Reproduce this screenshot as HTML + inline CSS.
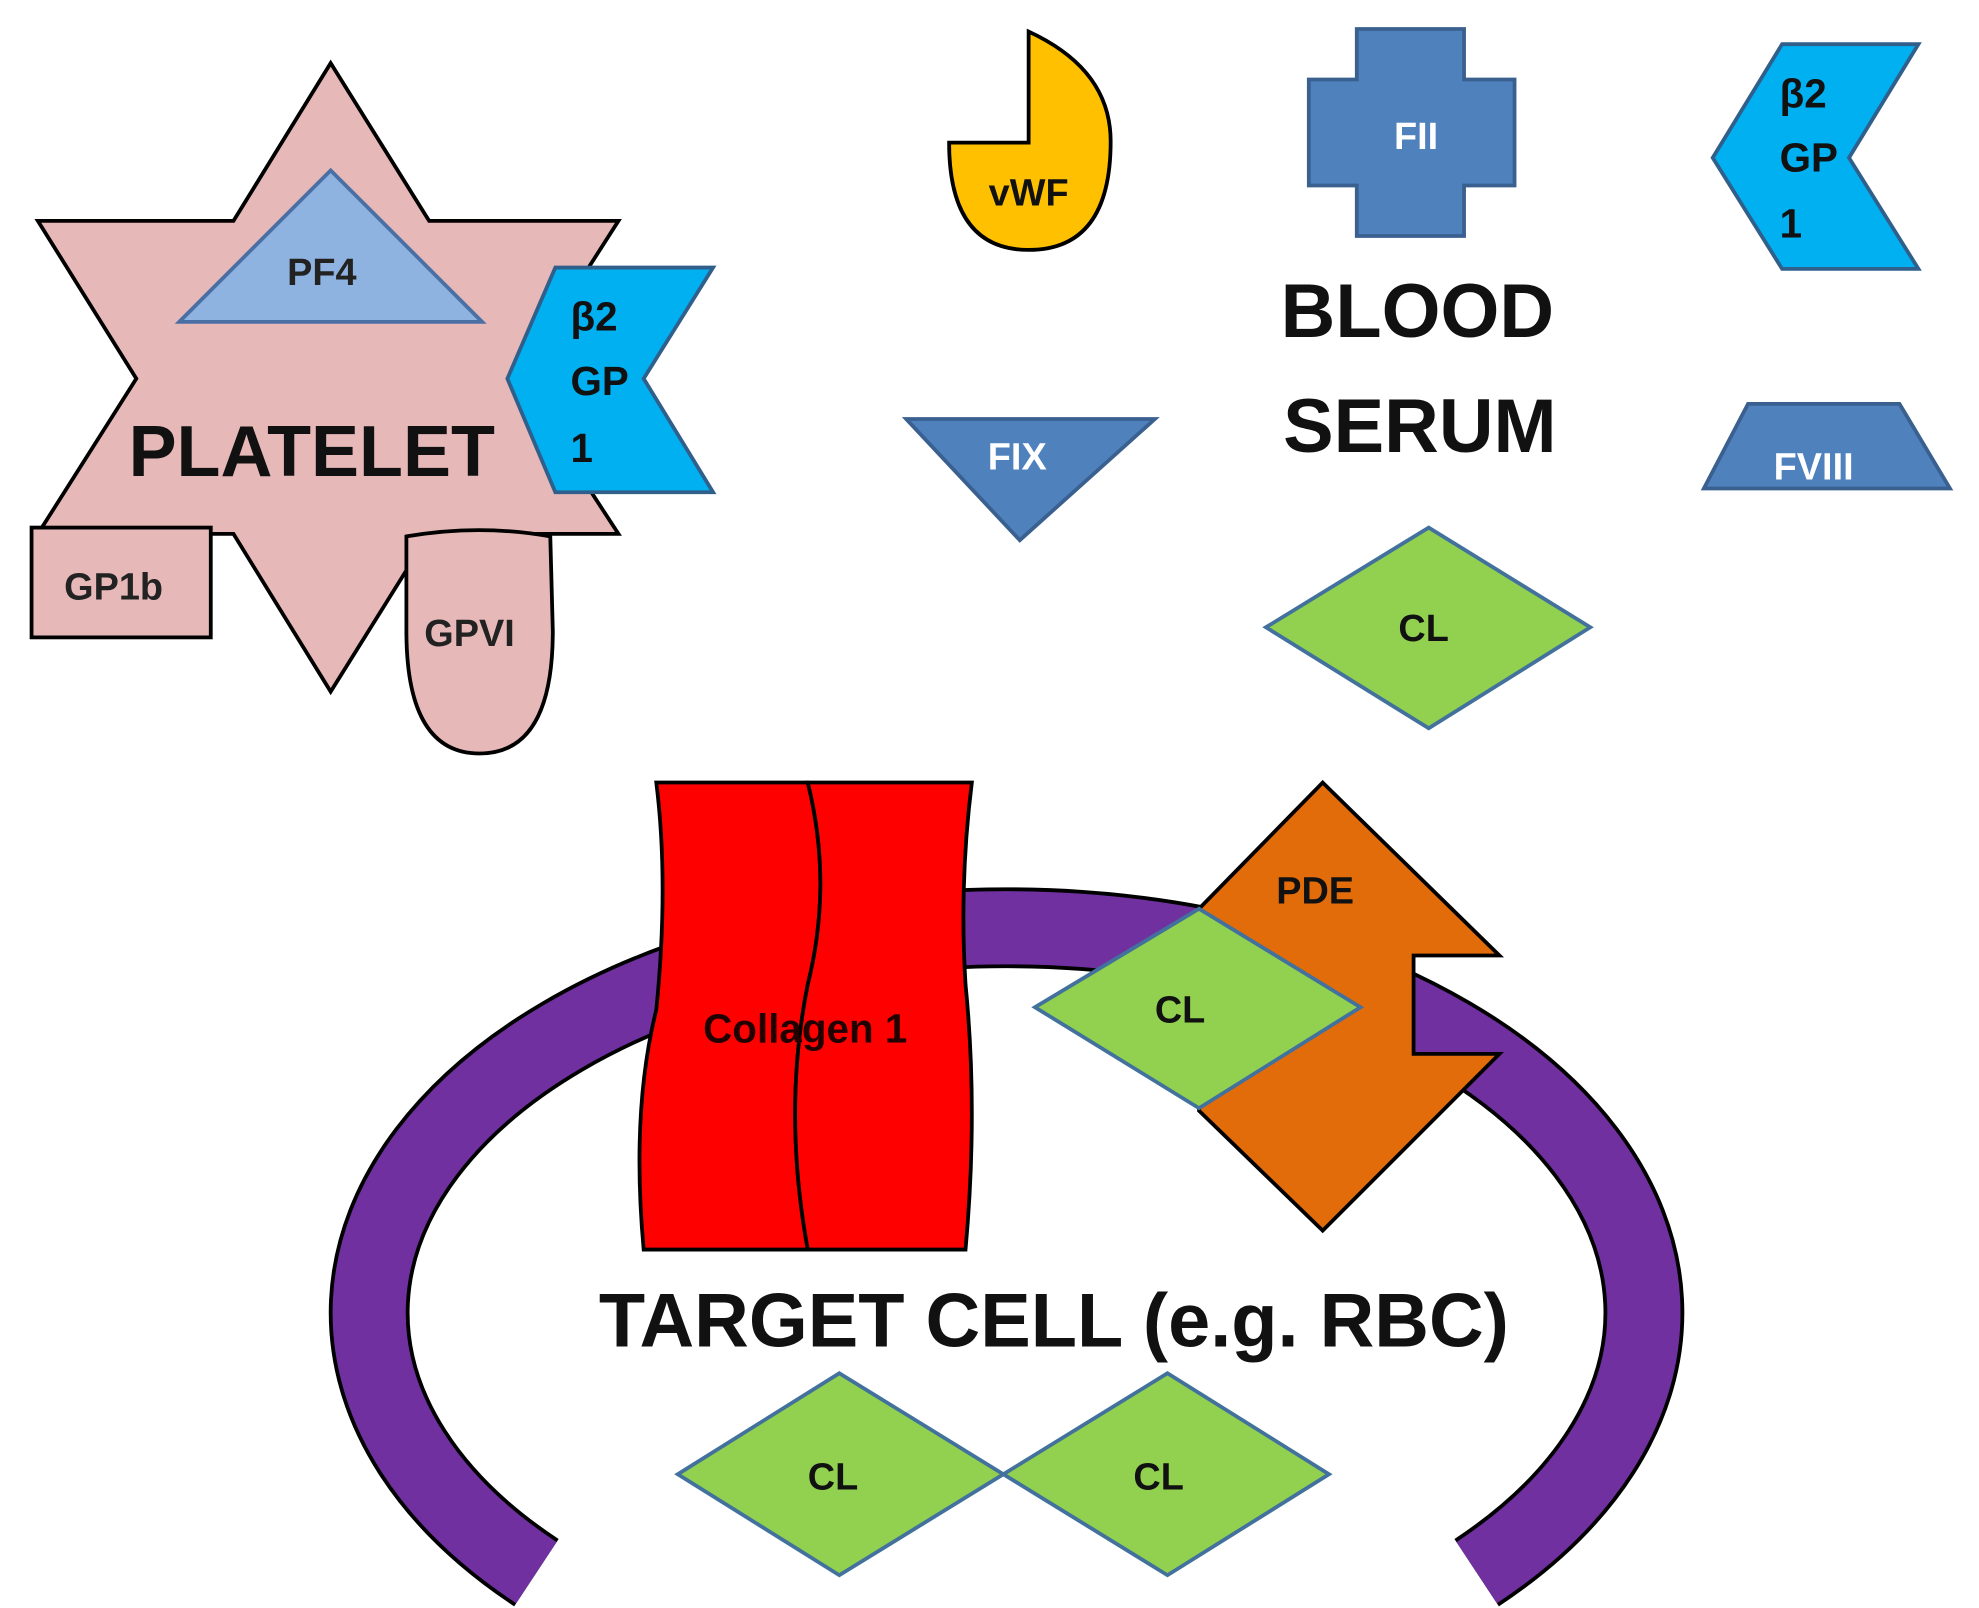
<!DOCTYPE html>
<html><head><meta charset="utf-8"><style>html,body{margin:0;padding:0;background:#fff}svg{display:block}</style></head>
<body>
<svg width="1979" height="1608" viewBox="0 0 1568 1274" preserveAspectRatio="none" xmlns="http://www.w3.org/2000/svg" font-family="Liberation Sans, sans-serif" font-weight="bold">
<polygon points="262,50 340,175 490,175 410,300 490,423 340,423 262,548 185,423 30,423 108,300 30,175 185,175" fill="#e6b9b8" stroke="#000" stroke-width="3"/>
<polygon points="142,255 262,135 382,255" fill="#8fb3e0" stroke="#4a6fa5" stroke-width="3"/>
<text x="255" y="226" font-size="30" text-anchor="middle" fill="#222">PF4</text>
<polygon points="402,300 440,212 565,212 510,300 565,390 440,390" fill="#00b0f0" stroke="#2f5f8a" stroke-width="3"/>
<text x="452" y="262" font-size="32" fill="#111">β2</text>
<text x="452" y="313" font-size="32" fill="#111">GP</text>
<text x="452" y="366" font-size="32" fill="#111">1</text>
<rect x="25" y="418" width="142" height="87" fill="#e6b9b8" stroke="#000" stroke-width="3"/>
<text x="90" y="475" font-size="30" text-anchor="middle" fill="#222">GP1b</text>
<path d="M322,425 Q380,415 436,425 L438,500 Q438,597 380,597 Q322,597 322,500 Z" fill="#e6b9b8" stroke="#000" stroke-width="3"/>
<text x="372" y="512" font-size="30" text-anchor="middle" fill="#222">GPVI</text>
<text x="247" y="377" font-size="57" text-anchor="middle" fill="#111">PLATELET</text>
<path d="M815,25 Q880,55 880,112 Q880,198 815,198 Q752,198 752,113 L815,113 Z" fill="#ffc000" stroke="#000" stroke-width="3"/>
<text x="815" y="163" font-size="30" text-anchor="middle" fill="#111">vWF</text>
<polygon points="1075,23 1160,23 1160,63 1200,63 1200,147 1160,147 1160,187 1075,187 1075,147 1037,147 1037,63 1075,63" fill="#4f81bd" stroke="#3a6090" stroke-width="3"/>
<text x="1122" y="118" font-size="30" text-anchor="middle" fill="#fff">FII</text>
<polygon points="1357,125 1412,35 1520,35 1465,125 1520,213 1412,213" fill="#00b0f0" stroke="#2f5f8a" stroke-width="3"/>
<text x="1410" y="85" font-size="32" fill="#111">β2</text>
<text x="1410" y="136" font-size="32" fill="#111">GP</text>
<text x="1410" y="188" font-size="32" fill="#111">1</text>
<text x="1123" y="267" font-size="60" text-anchor="middle" fill="#111">BLOOD</text>
<text x="1125" y="358" font-size="60" text-anchor="middle" fill="#111">SERUM</text>
<polygon points="718,332 915,332 808,428" fill="#4f81bd" stroke="#3a6090" stroke-width="3"/>
<text x="806" y="372" font-size="30" text-anchor="middle" fill="#fff">FIX</text>
<polygon points="1350,387 1545,387 1505,320 1385,320" fill="#4f81bd" stroke="#3a6090" stroke-width="3"/>
<text x="1437" y="380" font-size="30" text-anchor="middle" fill="#fff">FVIII</text>
<polygon points="1003,497 1132,418 1260,497 1132,577" fill="#92d050" stroke="#41719c" stroke-width="3"/>
<text x="1128" y="508" font-size="30" text-anchor="middle" fill="#111">CL</text>
<g transform="translate(0,20)">
<path d="M425,1226 A505,305 0 1 1 1170,1226" fill="none" stroke="#000" stroke-width="64"/>
<path d="M425,1226 A505,305 0 1 1 1170,1226" fill="none" stroke="#7030a0" stroke-width="58"/>
</g>
<path d="M520,620 L640,620 Q660,700 640,780 Q620,880 640,990 L510,990 Q500,880 520,800 Q530,700 520,620 Z" fill="#ff0000" stroke="#000" stroke-width="3"/>
<path d="M640,620 L770,620 Q760,700 765,780 Q775,880 765,990 L640,990 Q620,880 640,780 Q660,700 640,620 Z" fill="#ff0000" stroke="#000" stroke-width="3"/>
<text x="638" y="826" font-size="32" text-anchor="middle" fill="#220000">Collagen 1</text>
<polygon points="1048,620 1188,757 1120,757 1120,835 1188,835 1048,975 950,880 950,720" fill="#e36c0a" stroke="#000" stroke-width="3"/>
<text x="1042" y="716" font-size="30" text-anchor="middle" fill="#111">PDE</text>
<polygon points="820,798 950,720 1078,798 950,878" fill="#92d050" stroke="#41719c" stroke-width="3"/>
<text x="935" y="810" font-size="30" text-anchor="middle" fill="#111">CL</text>
<text x="835" y="1067" font-size="60" text-anchor="middle" fill="#111">TARGET CELL (e.g. RBC)</text>
<polygon points="537,1168 665,1088 795,1168 665,1248" fill="#92d050" stroke="#41719c" stroke-width="3"/>
<polygon points="795,1168 925,1088 1053,1168 925,1248" fill="#92d050" stroke="#41719c" stroke-width="3"/>
<text x="660" y="1180" font-size="30" text-anchor="middle" fill="#111">CL</text>
<text x="918" y="1180" font-size="30" text-anchor="middle" fill="#111">CL</text>
</svg>
</body></html>
